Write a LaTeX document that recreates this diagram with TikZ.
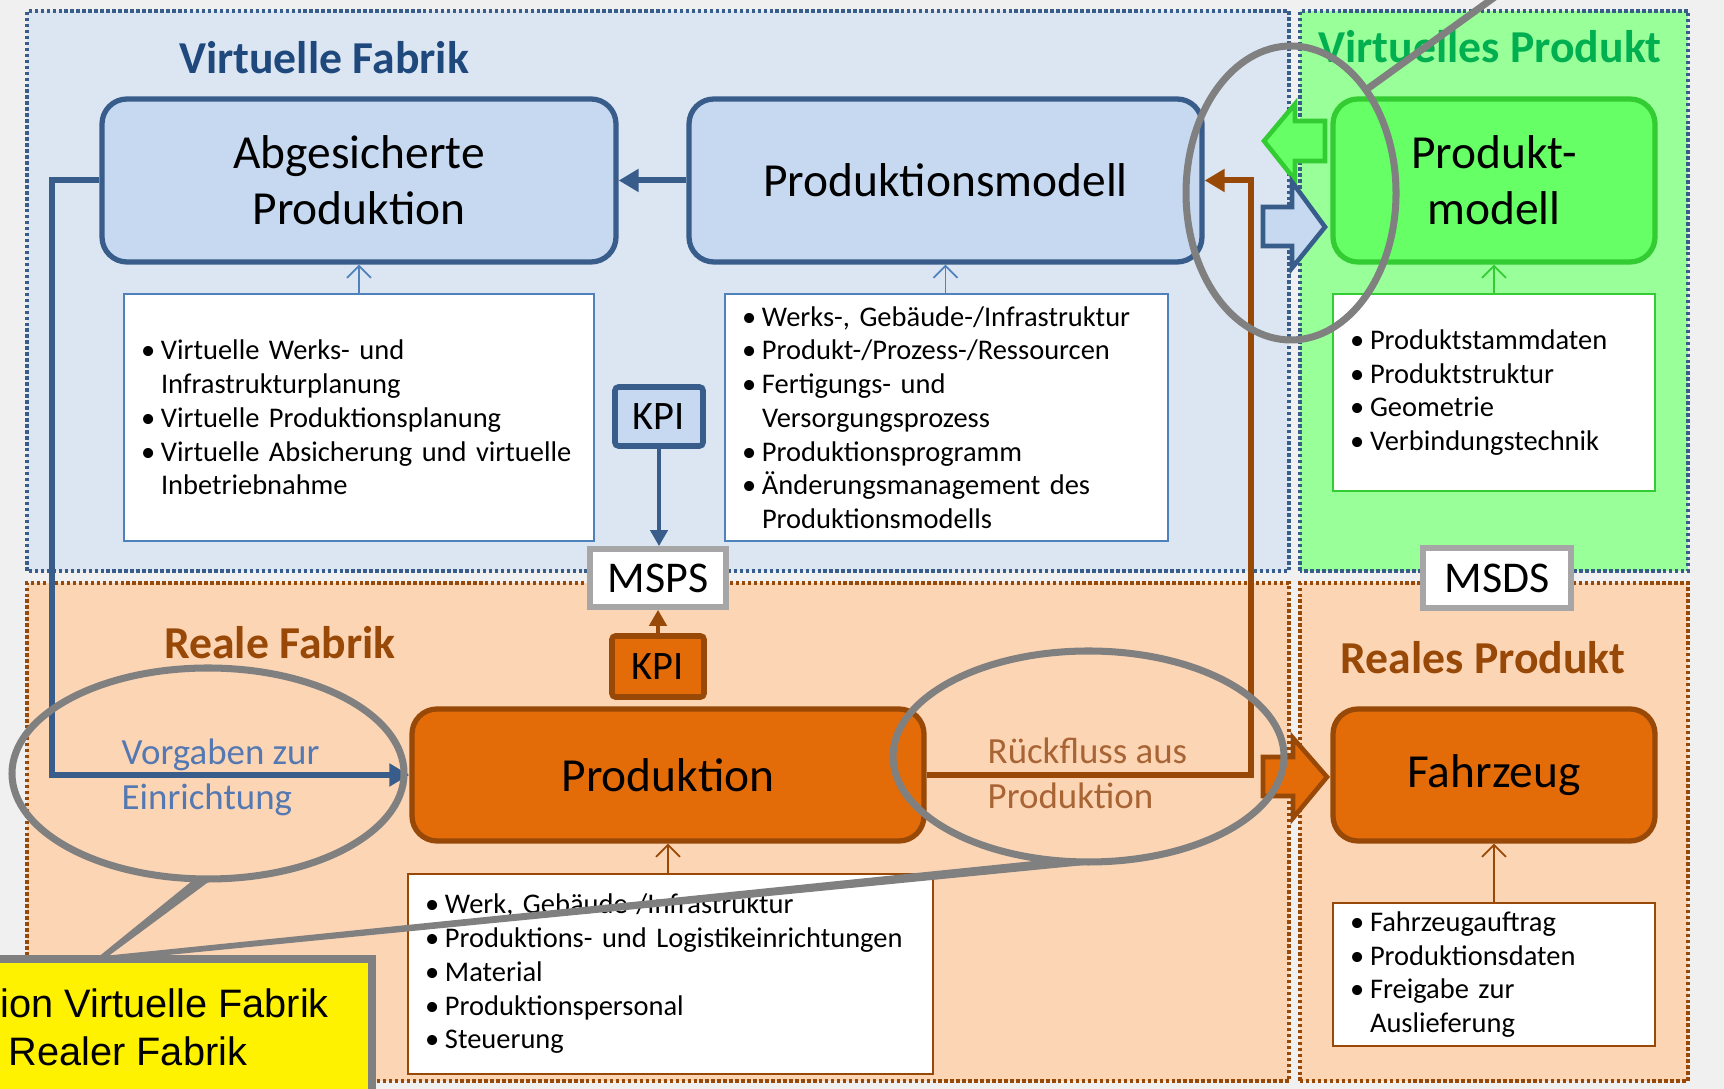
\documentclass[tikz,border=0pt]{standalone}
\usepackage{fontspec}
\setmainfont{Carlito}
\newfontfamily\notefont{Liberation Sans}
\usepackage{tikz}
\usetikzlibrary{shapes.geometric,arrows.meta,calc}

\definecolor{bgGray}{RGB}{240,240,240}
\definecolor{vfFill}{RGB}{220,230,242}
\definecolor{vpFill}{RGB}{153,255,153}
\definecolor{rfFill}{RGB}{252,213,181}
\definecolor{darkBlue}{RGB}{56,93,138}
\definecolor{midBlue}{RGB}{79,129,189}
\definecolor{boxBlue}{RGB}{198,217,241}
\definecolor{titleBlue}{RGB}{31,73,125}
\definecolor{prodGreen}{RGB}{102,255,102}
\definecolor{lineGreen}{RGB}{51,204,51}
\definecolor{titleGreen}{RGB}{0,176,80}
\definecolor{darkBrown}{RGB}{152,72,7}
\definecolor{orangeFill}{RGB}{227,108,9}
\definecolor{noteGray}{RGB}{128,128,128}
\definecolor{frameGray}{RGB}{166,166,166}
\definecolor{labelBlue}{RGB}{84,120,178}
\definecolor{labelBrown}{RGB}{168,100,52}

\newcommand{\infofont}{\fontsize{8.1}{9.6}\selectfont\spaceskip=0.18em plus 0.05em\relax}
\newcommand{\itemline}[1]{\mbox{\makebox[0.2cm][l]{\textbullet}#1}}
\newcommand{\moreline}[1]{\mbox{\hspace*{0.2cm}#1}}

\begin{document}
\begin{tikzpicture}[
  region/.style={line width=0.9pt, dash pattern=on 1pt off 0.7pt},
  title/.style={font=\fontsize{13}{15}\selectfont\bfseries},
  mainbox/.style={draw, rounded corners=0.25cm, line width=1.5pt, align=center, inner sep=0pt, font=\fontsize{13.5}{16}\selectfont},
  infobox/.style={draw, fill=white, line width=0.5pt, inner xsep=0.17cm, inner ysep=0pt, align=left, font=\infofont},
  kpibox/.style={draw, line width=1.6pt, rounded corners=1pt, minimum width=0.88cm, minimum height=0.59cm, inner sep=0pt, font=\fontsize{11.5}{13}\selectfont},
  msbox/.style={draw=frameGray, fill=white, line width=1.6pt, minimum height=0.58cm, inner sep=0pt, font=\fontsize{12.5}{14}\selectfont},
  flow/.style={line width=1.7pt, -{Triangle[length=0.2cm,width=0.22cm]}},
  feed/.style={line width=0.5pt, -{Straight Barb[length=0.12cm,width=0.24cm]}},
  flowlabel/.style={align=left, anchor=west, inner sep=0pt, font=\fontsize{10.5}{12.8}\selectfont},
  fatarrow/.style={line width=1.3pt, line join=miter},
  ring/.style={ellipse, draw=noteGray, line width=2pt, inner sep=0pt, outer sep=0pt}
]
  \useasboundingbox (0,0) rectangle (17.24,10.89);
  \clip (0,0) rectangle (17.24,10.89);
  \fill[bgGray] (0,0) rectangle (17.24,10.89);

  % Regions
  \draw[region, draw=darkBlue, fill=vfFill] (0.27,5.18) rectangle (12.89,10.78);
  \draw[region, draw=darkBlue, fill=vpFill] (13.00,5.18) rectangle (16.88,10.78);
  \draw[region, draw=darkBrown, fill=rfFill] (0.27,0.08) rectangle (12.89,5.06);
  \draw[region, draw=darkBrown, fill=rfFill] (13.00,0.08) rectangle (16.88,5.06);

  \node[title, text=titleBlue] (vfTitle) at (3.24,10.31) {Virtuelle Fabrik};
  \node[title, text=titleGreen] (vpTitle) at (14.90,10.42) {Virtuelles Produkt};
  \node[title, text=darkBrown] (rfTitle) at (2.80,4.46) {Reale Fabrik};
  \node[title, text=darkBrown] (rpTitle) at (14.83,4.31) {Reales Produkt};

  % Block arrows between factory and product
  \draw[fatarrow, draw=lineGreen, fill=prodGreen] (12.64,9.48) -- (12.95,9.85) -- (12.95,9.68) -- (13.25,9.68) -- (13.25,9.28) -- (12.95,9.28) -- (12.95,9.09) -- cycle;
  \draw[fatarrow, draw=darkBlue, fill=boxBlue] (12.63,8.82) -- (12.92,8.82) -- (12.92,9.07) -- (13.25,8.62) -- (12.92,8.21) -- (12.92,8.43) -- (12.63,8.43) -- cycle;
  \draw[fatarrow, draw=darkBrown, fill=orangeFill] (12.63,3.32) -- (12.93,3.32) -- (12.93,3.51) -- (13.27,3.12) -- (12.93,2.71) -- (12.93,2.93) -- (12.63,2.93) -- cycle;

  % Main boxes
  \node[mainbox, fill=boxBlue, draw=darkBlue, minimum width=5.14cm, minimum height=1.63cm] (safeProd) at (3.59,9.085) {Abgesicherte\\Produktion};
  \node[mainbox, fill=boxBlue, draw=darkBlue, minimum width=5.13cm, minimum height=1.63cm] (prodModel) at (9.455,9.085) {Produktionsmodell};
  \node[mainbox, fill=prodGreen, draw=lineGreen, minimum width=3.22cm, minimum height=1.63cm] (productModel) at (14.94,9.085) {Produkt-\\modell};
  \node[mainbox, fill=orangeFill, draw=darkBrown, minimum width=5.12cm, minimum height=1.32cm] (realProd) at (6.68,3.14) {Produktion};
  \node[mainbox, fill=orangeFill, draw=darkBrown, minimum width=3.22cm, minimum height=1.32cm] (vehicle) at (14.94,3.14) {Fahrzeug};

  % Info boxes
  \node[infobox, draw=midBlue, text width=4.36cm, minimum height=2.47cm] (safeInfo) at (3.59,6.715) {
    \itemline{Virtuelle Werks- und}\\
    \moreline{Infrastrukturplanung}\\
    \itemline{Virtuelle Produktionsplanung}\\
    \itemline{Virtuelle Absicherung und virtuelle}\\
    \moreline{Inbetriebnahme}};
  \node[infobox, draw=midBlue, text width=4.09cm, minimum height=2.47cm] (modelInfo) at (9.465,6.715) {
    \itemline{Werks-, Gebäude-/Infrastruktur}\\
    \itemline{Produkt-/Prozess-/Ressourcen}\\
    \itemline{Fertigungs- und}\\
    \moreline{Versorgungsprozess}\\
    \itemline{Produktionsprogramm}\\
    \itemline{Änderungsmanagement des}\\
    \moreline{Produktionsmodells}};
  \node[infobox, draw=lineGreen, text width=2.88cm, minimum height=1.97cm] (productInfo) at (14.94,6.965) {
    \itemline{Produktstammdaten}\\
    \itemline{Produktstruktur}\\
    \itemline{Geometrie}\\
    \itemline{Verbindungstechnik}};
  \node[infobox, draw=darkBrown, text width=4.91cm, minimum height=2.00cm] (realInfo) at (6.705,1.15) {
    \itemline{Werk, Gebäude-/Infrastruktur}\\
    \itemline{Produktions- und Logistikeinrichtungen}\\
    \itemline{Material}\\
    \itemline{Produktionspersonal}\\
    \itemline{Steuerung}};
  \node[infobox, draw=darkBrown, text width=2.88cm, minimum height=1.43cm] (vehicleInfo) at (14.94,1.145) {
    \itemline{Fahrzeugauftrag}\\
    \itemline{Produktionsdaten}\\
    \itemline{Freigabe zur}\\
    \moreline{Auslieferung}};

  \draw[feed, midBlue] (safeInfo) -- (safeProd);
  \draw[feed, midBlue] (modelInfo.north -| prodModel.south) -- (prodModel.south);
  \draw[feed, lineGreen] (productInfo) -- (productModel);
  \draw[feed, darkBrown] (realInfo.north -| realProd.south) -- (realProd.south);
  \draw[feed, darkBrown] (vehicleInfo) -- (vehicle);

  % KPI and data stores
  \node[kpibox, fill=boxBlue, draw=darkBlue] (kpiVirtual) at (6.59,6.725) {KPI};
  \node[msbox, minimum width=1.36cm] (msps) at (6.58,5.11) {MSPS};
  \node[kpibox, fill=orangeFill, draw=darkBrown, minimum width=0.92cm, minimum height=0.61cm] (kpiReal) at (6.58,4.225) {KPI};
  \node[msbox, minimum width=1.48cm, minimum height=0.60cm] (msds) at (14.97,5.11) {MSDS};

  \draw[line width=1.2pt, darkBlue, -{Triangle[length=0.16cm,width=0.17cm]}] (kpiVirtual.south) -- (kpiVirtual.south |- msps.north);
  \draw[line width=1.2pt, darkBrown, -{Triangle[length=0.16cm,width=0.17cm]}] (kpiReal.north) -- (kpiReal.north |- msps.south);

  % Flows
  \draw[flow, darkBlue] (prodModel) -- (safeProd);
  \draw[flow, darkBlue] (safeProd.west) -- ++(-0.47,0) |- (realProd.west);
  \draw[flow, darkBrown] (realProd.east) -- ++(3.24,0) |- (prodModel.east);
  \node[flowlabel, text=labelBlue] (setupLabel) at (1.21,3.12) {Vorgaben zur\\Einrichtung};
  \node[flowlabel, text=labelBrown] (backLabel) at (9.87,3.16) {Rückfluss aus\\Produktion};

  % Annotation
  \node[ring, minimum width=2.10cm, minimum height=2.94cm] (ringTop) at (12.91,8.96) {};
  \node[ring, minimum width=3.92cm, minimum height=2.11cm] (ringSetup) at (2.08,3.155) {};
  \node[ring, minimum width=3.91cm, minimum height=2.11cm] (ringBack) at (10.885,3.325) {};
  \coordinate (noteTip) at (1.00,1.30);
  \coordinate (topEnd) at (15.35,11.21);
  \draw[noteGray, line width=2pt] (ringTop.54) -- (topEnd);
  \filldraw[noteGray, line width=1.5pt, line join=round] (noteTip) -- (ringSetup.265) -- (ringSetup.south) -- cycle;
  \filldraw[noteGray, line width=1.5pt, line join=round] (noteTip) -- (ringBack.255) -- (ringBack.south) -- cycle;
  \draw[draw=noteGray, fill=yellow, line width=2pt] (-0.2,-0.2) rectangle (3.72,1.30);
  \node[anchor=west, align=left, inner sep=0pt, font=\notefont\fontsize{11.3}{13.7}\selectfont] (noteText) at (0,0.62) {ion Virtuelle Fabrik\\\hspace*{0.08cm}Realer Fabrik};
\end{tikzpicture}
\end{document}
